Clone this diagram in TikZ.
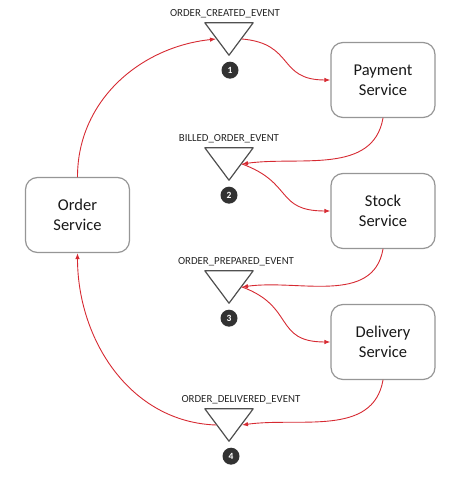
\documentclass[tikz,border=0pt]{standalone}
\usepackage{fontspec}
\setmainfont{Carlito}
\usepackage{tikz}
\usetikzlibrary{arrows.meta,calc}
\definecolor{evred}{RGB}{214,42,50}
\definecolor{boxgray}{RGB}{150,150,150}
\definecolor{trigray}{RGB}{80,80,80}
\definecolor{badgegray}{RGB}{50,50,50}

\begin{document}
\begin{tikzpicture}[line cap=round,line join=round,>={Latex[length=6pt,width=4.5pt]},x=1pt,y=1pt,
    service/.style={draw=boxgray,line width=1.2pt,rounded corners=12pt,fill=white,minimum width=104pt,minimum height=75pt,align=center,text=black!90,font=\fontsize{16.5}{20}\selectfont},
    evt/.style={minimum width=48pt,minimum height=32pt,inner sep=0pt},
    evlabel/.style={anchor=base,inner sep=0pt,text=black!85,font=\fontsize{10.8}{12}\selectfont},
    badge/.style={circle,fill=badgegray,text=white,inner sep=0pt,minimum size=17pt,font=\fontsize{9.5}{10}\selectfont\bfseries},
    flow/.style={->,draw=evred,line width=0.9pt}]
    \useasboundingbox (0,0) rectangle (458,487);
    % services
    \node[service] (order) at (77.5,272) {Order\\Service};
    \node[service] (payment) at (383,407) {Payment\\Service};
    \node[service] (stock) at (383,276) {Stock\\Service};
    \node[service] (delivery) at (383,145) {Delivery\\Service};
    % events
    \node[evt] (created) at (229,448) {};
    \node[evt] (billed) at (229,323) {};
    \node[evt] (prepared) at (229,200) {};
    \node[evt] (delivered) at (229,62) {};
    \foreach \e in {created,billed,prepared,delivered}{
        \draw [trigray,line width=1.2pt] (\e.north west) -- (\e.north east) -- (\e.south) -- cycle;
        \coordinate (\e-in) at ($(\e.center)+(-13,0)$);
        \coordinate (\e-out) at ($(\e.center)+(13,0)$);
    }
    \node[evlabel] (createdlbl) at ($(created.north)+(-4,6.5)$) {ORDER\_CREATED\_EVENT};
    \node[evlabel] (billedlbl) at ($(billed.north)+(0,6.5)$) {BILLED\_ORDER\_EVENT};
    \node[evlabel] (preparedlbl) at ($(prepared.north)+(7,6.5)$) {ORDER\_PREPARED\_EVENT};
    \node[evlabel] (deliveredlbl) at ($(delivered.north)+(12,6.5)$) {ORDER\_DELIVERED\_EVENT};
    \node[badge] (b1) at ($(created.south)+(1,-15)$) {1};
    \node[badge] (b2) at ($(billed.south)+(0,-15)$) {2};
    \node[badge] (b3) at ($(prepared.south)+(0,-15)$) {3};
    \node[badge] (b4) at ($(delivered.south)+(2,-15)$) {4};
    % flows
    \draw [flow] (order.north) to[out=90,in=186] (created-in);
    \draw [flow] (created-out) to[out=-5,in=180,looseness=1.4] (payment.west);
    \draw [flow] (payment.south) to[out=260,in=8] (billed-out);
    \draw [flow] (billed-out) to[out=-20,in=180,looseness=1.4] (stock.west);
    \draw [flow] (stock.south) to[out=260,in=8] (prepared-out);
    \draw [flow] (prepared-out) to[out=-20,in=180,looseness=1.4] (delivery.west);
    \draw [flow] (delivery.south) to[out=260,in=8] (delivered-out);
    \draw [flow] (delivered-in) to[out=178,in=270] (order.south);
\end{tikzpicture}
\end{document}
